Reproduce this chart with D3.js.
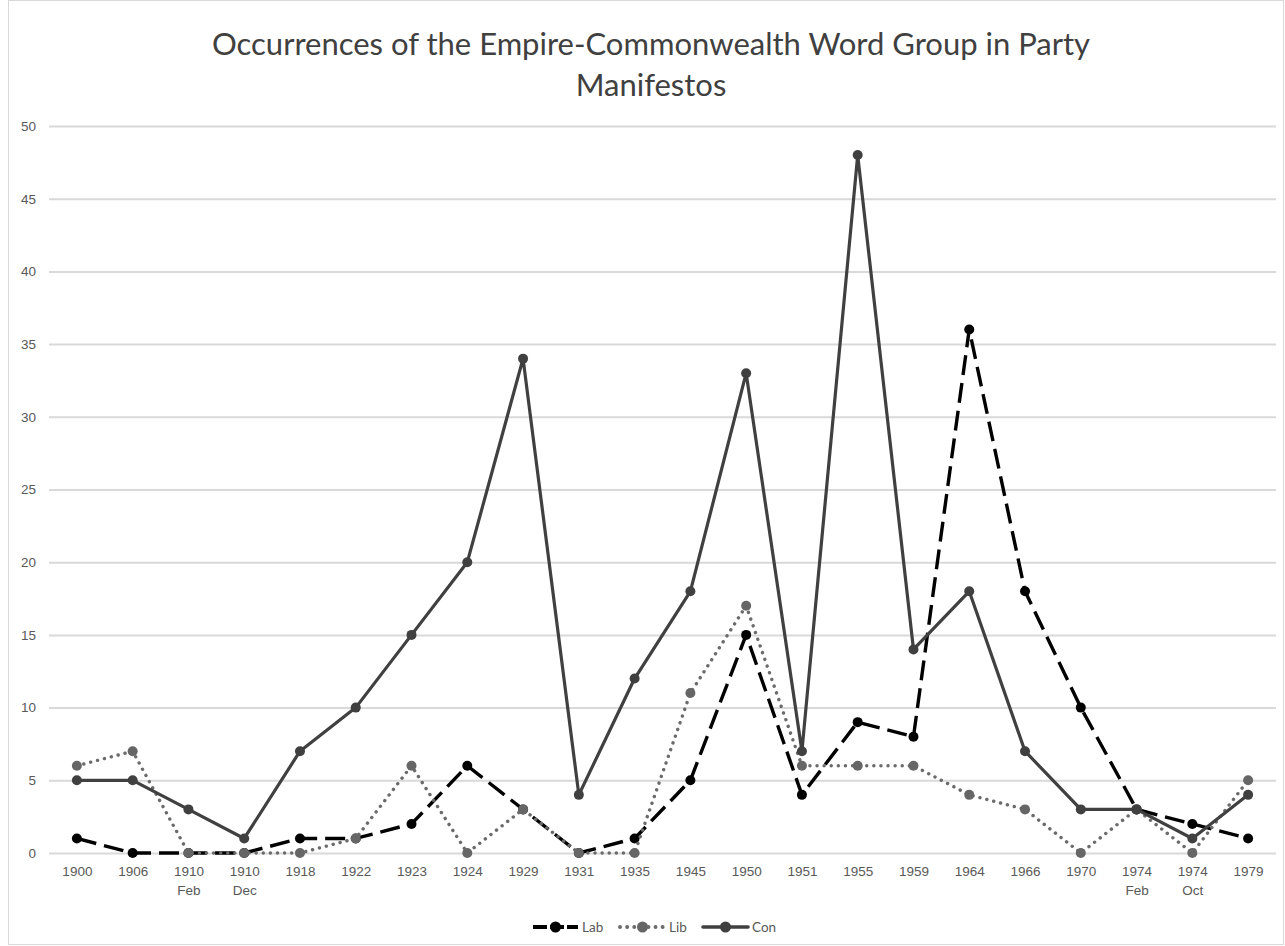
<!DOCTYPE html>
<html>
<head>
<meta charset="utf-8">
<script src="https://cdn.jsdelivr.net/npm/d3@7"></script>
<style>
  body { margin: 0; background: #fff; }
  svg { display: block; font-family: Lato, "Open Sans", sans-serif; }
</style>
</head>
<body>
<script>
// elections (two lines for the double elections)
const elections = ["1900", "1906", "1910|Feb", "1910|Dec", "1918", "1922", "1923", "1924", "1929", "1931", "1935",
  "1945", "1950", "1951", "1955", "1959", "1964", "1966", "1970", "1974|Feb", "1974|Oct", "1979"];
const labValues = [1, 0, 0, 0, 1, 1, 2, 6, 3, 0, 1, 5, 15, 4, 9, 8, 36, 18, 10, 3, 2, 1];
const libValues = [6, 7, 0, 0, 0, 1, 6, 0, 3, 0, 0, 11, 17, 6, 6, 6, 4, 3, 0, 3, 0, 5];
const conValues = [5, 5, 3, 1, 7, 10, 15, 20, 34, 4, 12, 18, 33, 7, 48, 14, 18, 7, 3, 3, 1, 4];
const yTicks = [0, 5, 10, 15, 20, 25, 30, 35, 40, 45, 50];

const W = 1285, H = 946;
const margin = { top: 126, right: 9, bottom: 93, left: 49 };

const svg = d3.select("body").append("svg")
  .attr("width", W)
  .attr("height", H);

// chart border
svg.append("rect")
  .attr("x", 8.5).attr("y", 0.5)
  .attr("width", W - 10).attr("height", H - 2)
  .attr("fill", "#fff")
  .attr("stroke", "#d9d9d9");

const xScale = d3.scalePoint()
  .domain(elections)
  .range([margin.left, W - margin.right])
  .padding(0.5);

const yScale = d3.scaleLinear()
  .domain([0, 50])
  .range([H - margin.bottom, margin.top]);

// title
svg.append("text")
  .attr("x", 651).attr("y", 55)
  .attr("text-anchor", "middle")
  .attr("font-size", "31px")
  .attr("fill", "#404040")
  .text("Occurrences of the Empire-Commonwealth Word Group in Party");
svg.append("text")
  .attr("x", 651).attr("y", 96)
  .attr("text-anchor", "middle")
  .attr("font-size", "31px")
  .attr("fill", "#404040")
  .text("Manifestos");

// gridlines + y labels
const yAxis = d3.axisLeft(yScale)
  .tickValues(yTicks)
  .tickSize(-(W - margin.left - margin.right))
  .tickPadding(13);

svg.append("g")
  .attr("class", "y-axis")
  .attr("transform", "translate(" + margin.left + ",0)")
  .call(yAxis)
  .call(g => g.select(".domain").remove())
  .call(g => g.selectAll(".tick line").attr("stroke", "#d9d9d9").attr("stroke-width", 2))
  .call(g => g.selectAll(".tick text").attr("fill", "#595959").attr("font-size", "13.5px"));

// x labels
const xAxis = d3.axisBottom(xScale).tickSize(0).tickPadding(12).tickFormat("");
const xg = svg.append("g")
  .attr("class", "x-axis")
  .attr("transform", "translate(0," + yScale(0) + ")")
  .call(xAxis)
  .call(g => g.select(".domain").remove());

xg.selectAll(".tick").each(function (d) {
  const parts = d.split("|");
  const t = d3.select(this).select("text")
    .attr("fill", "#595959")
    .attr("font-size", "13.5px")
    .attr("dy", null)
    .attr("y", 23);
  parts.forEach((p, i) => {
    t.append("tspan").attr("x", 0).attr("dy", i == 0 ? 0 : 19).text(p);
  });
});

// series
const series = [
  { name: "Lab", values: labValues, color: "#000000", markColor: "#000000", dash: "20,8", cap: "butt", width: 3.4 },
  { name: "Lib", values: libValues, color: "#6b6b6b", markColor: "#666666", dash: "0.1,7", cap: "round", width: 3.4 },
  { name: "Con", values: conValues, color: "#404040", markColor: "#404040", dash: null, cap: "round", width: 3.2 }
];

const line = d3.line()
  .x((d, i) => xScale(elections[i]))
  .y(d => yScale(d));

// draw order: Lab, Lib, Con (Con on top)
series.forEach(s => {
  const g = svg.append("g").attr("class", "series-" + s.name);
  g.append("path")
    .datum(s.values)
    .attr("d", line)
    .attr("fill", "none")
    .attr("stroke", s.color)
    .attr("stroke-width", s.width)
    .attr("stroke-linecap", s.cap)
    .attr("stroke-linejoin", "round")
    .attr("stroke-dasharray", s.dash);
  g.selectAll("circle")
    .data(s.values)
    .enter()
    .append("circle")
    .attr("cx", (d, i) => xScale(elections[i]))
    .attr("cy", d => yScale(d))
    .attr("r", 5)
    .attr("fill", s.markColor);
});

// legend
const legendX = [533, 620, 703];
const legendY = 927;
series.forEach((s, i) => {
  const lg = svg.append("g").attr("transform", "translate(" + legendX[i] + "," + legendY + ")");
  lg.append("line")
    .attr("x1", 0).attr("x2", 45)
    .attr("stroke", s.color)
    .attr("stroke-width", s.width + 0.4)
    .attr("stroke-linecap", s.cap)
    .attr("stroke-dasharray", s.name == "Lab" ? "14,3" : s.dash);
  lg.append("circle").attr("cx", 22.5).attr("r", 5.5).attr("fill", s.markColor);
  lg.append("text")
    .attr("x", 49).attr("y", 4.5)
    .attr("font-size", "13.5px")
    .attr("fill", "#595959")
    .text(s.name);
});
</script>
</body>
</html>
